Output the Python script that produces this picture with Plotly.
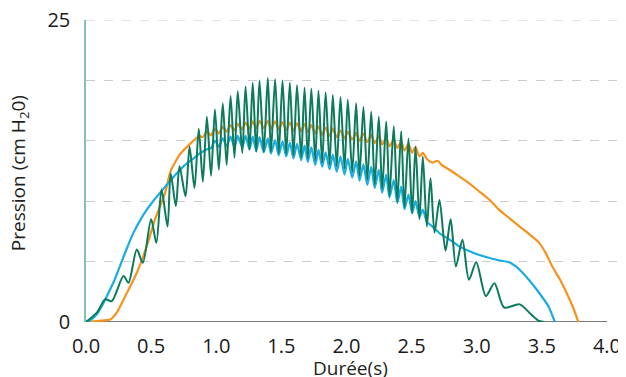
import plotly.graph_objects as go

# ---------------- data ----------------
# Time (s) and pressure (cm H2O) for the three recordings

green_t = [0.0, 0.083, 0.147, 0.198, 0.288, 0.326, 0.39, 0.436, 0.50, 0.54,
           0.58, 0.626, 0.65, 0.69, 0.718, 0.764, 0.795, 0.833, 0.866, 0.897,
           0.928, 0.96, 0.99, 1.02, 1.05, 1.08, 1.11, 1.14, 1.165, 1.2,
           1.225, 1.255, 1.28, 1.307, 1.332, 1.365, 1.396, 1.42, 1.452, 1.48,
           1.509, 1.537, 1.565, 1.593, 1.62, 1.652, 1.678, 1.703, 1.73, 1.76,
           1.785, 1.813, 1.84, 1.87, 1.895, 1.925, 1.954, 1.985, 2.01, 2.044,
           2.074, 2.1, 2.13, 2.16, 2.19, 2.217, 2.248, 2.274, 2.305, 2.33,
           2.363, 2.39, 2.42, 2.445, 2.476, 2.504, 2.53, 2.56, 2.586, 2.617,
           2.645, 2.676, 2.714, 2.76, 2.8, 2.84, 2.89, 2.94, 2.996, 3.07,
           3.136, 3.21, 3.33, 3.42, 3.48, 3.52]
green_p = [0.0, 0.77, 1.87, 1.73, 3.8, 3.25, 6.0, 4.9, 8.5, 6.55,
           10.96, 7.9, 12.3, 9.6, 12.9, 10.4, 14.5, 11.1, 16.0, 11.6,
           17.0, 12.1, 17.6, 12.6, 18.1, 13.0, 18.7, 13.6, 19.1, 14.0,
           19.5, 14.26, 19.8, 14.1, 20.0, 14.1, 20.2, 14.1, 20.1, 14.0,
           20.0, 13.9, 19.8, 13.8, 19.6, 13.65, 19.4, 13.55, 19.3, 13.4,
           19.15, 13.2, 19.0, 13.05, 18.8, 12.9, 18.6, 12.7, 18.4, 12.4,
           18.1, 12.1, 17.8, 11.8, 17.4, 11.4, 17.0, 11.0, 16.6, 10.5,
           16.2, 10.0, 15.8, 9.5, 15.2, 9.0, 14.5, 8.5, 13.7, 7.9,
           11.9, 7.4, 10.1, 5.9, 8.5, 4.6, 6.8, 3.5, 4.95, 2.15,
           3.2, 1.2, 1.46, 0.6, 0.08, 0.0]

blue_t = [0.0, 0.04, 0.083, 0.13, 0.173, 0.22, 0.26, 0.31, 0.365, 0.42,
          0.467, 0.53, 0.608, 0.68, 0.75, 0.82, 0.88, 0.93,
          0.96, 0.99, 1.02, 1.05, 1.08, 1.11, 1.14, 1.165, 1.2, 1.225,
          1.255, 1.28, 1.307, 1.332, 1.365, 1.396, 1.42, 1.452, 1.48, 1.509,
          1.537, 1.565, 1.593, 1.62, 1.652, 1.678, 1.703, 1.73, 1.76, 1.785,
          1.813, 1.84, 1.87, 1.895, 1.925, 1.954, 1.985, 2.01, 2.044, 2.074,
          2.1, 2.13, 2.16, 2.19, 2.217, 2.248, 2.274, 2.305, 2.33, 2.363,
          2.39, 2.42, 2.445, 2.476, 2.504, 2.53, 2.56, 2.586, 2.617,
          2.66, 2.72, 2.79, 2.86, 2.94, 3.02, 3.10, 3.17, 3.25, 3.30,
          3.35, 3.40, 3.48, 3.55, 3.60]
blue_p = [0.0, 0.2, 0.64, 1.5, 2.43, 3.5, 4.6, 6.0, 7.4, 8.5,
          9.3, 10.2, 11.2, 12.1, 12.9, 13.5, 14.0, 14.3,
          14.4, 15.0, 14.5, 15.2, 14.55, 15.35, 14.5, 15.4, 14.45, 15.4,
          14.3, 15.35, 14.15, 15.3, 14.05, 15.2, 13.95, 15.05, 13.8, 14.95,
          13.7, 14.85, 13.55, 14.75, 13.4, 14.6, 13.25, 14.45, 13.0, 14.25,
          12.85, 14.05, 12.65, 13.85, 12.45, 13.7, 12.2, 13.5, 11.95, 13.3,
          11.7, 13.05, 11.35, 12.85, 11.1, 12.6, 10.7, 12.2, 10.3, 11.75,
          9.85, 11.2, 9.35, 10.55, 9.0, 10.0, 8.7, 9.3, 8.3,
          7.9, 7.3, 6.83, 6.3, 5.87, 5.55, 5.3, 5.1, 4.95, 4.6,
          4.1, 3.5, 2.4, 1.3, 0.0]

orange_t = [0.0, 0.1, 0.186, 0.236, 0.313, 0.39, 0.467, 0.53, 0.608, 0.65,
            0.72, 0.795, 0.87,
            0.897, 0.928, 0.96, 0.99, 1.02, 1.05, 1.08, 1.11, 1.14, 1.165,
            1.2, 1.225, 1.255, 1.28, 1.307, 1.332, 1.365, 1.396, 1.42, 1.452,
            1.48, 1.509, 1.537, 1.565, 1.593, 1.62, 1.652, 1.678, 1.703, 1.73,
            1.76, 1.785, 1.813, 1.84, 1.87, 1.895, 1.925, 1.954, 1.985, 2.01,
            2.044, 2.074, 2.1, 2.13, 2.16, 2.19, 2.217, 2.248, 2.274, 2.305,
            2.33, 2.363, 2.39, 2.42, 2.445, 2.476, 2.504, 2.53, 2.56, 2.586,
            2.617,
            2.66, 2.70, 2.73, 2.79, 2.86, 2.94, 3.02, 3.10, 3.17, 3.25,
            3.33, 3.40, 3.48, 3.53, 3.58, 3.64, 3.69, 3.74, 3.78]
orange_p = [0.0, 0.1, 0.2, 0.77, 2.4, 4.08, 6.3, 8.5, 10.7, 12.5,
            13.85, 14.7, 15.4,
            15.3, 15.8, 15.45, 16.0, 15.6, 16.15, 15.75, 16.3, 15.85, 16.4,
            15.95, 16.5, 16.0, 16.6, 16.05, 16.65, 16.05, 16.65, 16.0, 16.6,
            15.95, 16.55, 15.9, 16.5, 15.85, 16.45, 15.8, 16.4, 15.7, 16.3,
            15.6, 16.2, 15.5, 16.1, 15.4, 16.0, 15.3, 15.85, 15.2, 15.75,
            15.1, 15.65, 15.0, 15.6, 14.9, 15.5, 14.8, 15.4, 14.7, 15.25,
            14.55, 15.1, 14.4, 14.95, 14.2, 14.75, 14.0, 14.5, 13.7, 14.0,
            13.5,
            13.2, 13.35, 13.0, 12.6, 12.1, 11.5, 10.8, 10.1, 9.3, 8.6,
            7.9, 7.3, 6.55, 5.7, 4.6, 3.5, 2.4, 1.2, 0.0]

x_ticks = [0.0, 0.5, 1.0, 1.5, 2.0, 2.5, 3.0, 3.5, 4.0]
x_tick_text = ["0.0", "0.5", "1.0", "1.5", "2.0", "2.5", "3.0", "3.5", "4.0"]
y_ticks = [0, 5, 10, 15, 20, 25]
y_tick_text = ["0", "", "", "", "", "25"]

assert len(green_t) == len(green_p)
assert len(blue_t) == len(blue_p)
assert len(orange_t) == len(orange_p)

# ---------------- figure ----------------
FONT = "Open Sans, Lato, sans-serif"
fig = go.Figure()

fig.add_trace(go.Scatter(x=orange_t, y=orange_p, mode="lines",
                         line=dict(color="#F6921E", width=2.2, shape="spline", smoothing=0.6),
                         hoverinfo="skip"))
fig.add_trace(go.Scatter(x=blue_t, y=blue_p, mode="lines",
                         line=dict(color="#1AACE3", width=2.2, shape="spline", smoothing=0.6),
                         hoverinfo="skip"))
fig.add_trace(go.Scatter(x=green_t, y=green_p, mode="lines",
                         line=dict(color="#0B7B5C", width=2.0, shape="spline", smoothing=0.8),
                         hoverinfo="skip"))

# the page body has an 8px margin, so the figure is sized to fill the rest of the window
fig.update_layout(
    width=618, height=369,
    margin=dict(l=78, r=0, t=12, b=55, autoexpand=False),
    plot_bgcolor="white", paper_bgcolor="white",
    showlegend=False,
    font=dict(family=FONT, color="#231f20"),
    xaxis=dict(range=[0, 4.146], tickvals=x_ticks, ticktext=x_tick_text,
               showgrid=False, zeroline=False, showline=False,
               ticks="outside", ticklen=6, tickcolor="rgba(0,0,0,0)",
               ticklabeloverflow="allow",
               tickfont=dict(size=20, color="#1a1a1a", family=FONT)),
    yaxis=dict(range=[0, 25], tickvals=y_ticks, ticktext=y_tick_text,
               showgrid=True, gridcolor="#cccccc", gridwidth=1, griddash="dash",
               zeroline=False, showline=True, linecolor="#86c3a5", linewidth=1.5,
               ticks="outside", ticklen=10, tickcolor="rgba(0,0,0,0)",
               ticklabeloverflow="allow",
               tickfont=dict(size=20, color="#1a1a1a", family=FONT)),
    shapes=[
        dict(type="line", xref="paper", yref="y", x0=0, x1=1, y0=25, y1=25,
             line=dict(color="#cccccc", width=1, dash="dash"), layer="between"),
        dict(type="line", xref="x", yref="y", x0=0, x1=4.0, y0=0, y1=0,
             line=dict(color="#4d4d4d", width=1.5), layer="between"),
    ],
    annotations=[
        dict(text="Pression (cm H<sub>2</sub>0)", xref="paper", yref="paper",
             x=-0.124, y=0.493, xanchor="center", yanchor="middle",
             textangle=-90, showarrow=False,
             font=dict(size=19, color="#231f20", family=FONT)),
        dict(text="Durée(s)", xref="paper", yref="paper",
             x=0.489, y=-0.152, xanchor="center", yanchor="middle",
             showarrow=False, font=dict(size=19, color="#231f20", family=FONT)),
    ],
)

fig.write_html("out.html")
